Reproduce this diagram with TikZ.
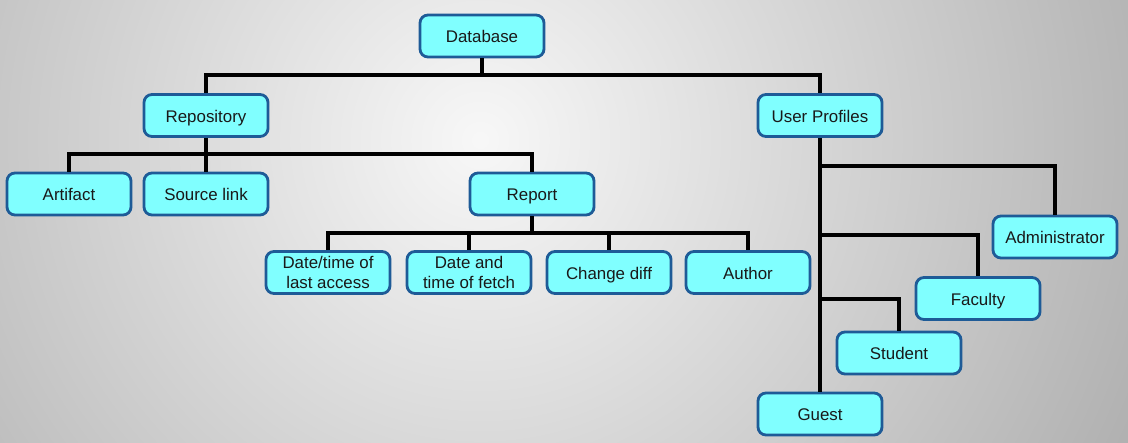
\documentclass[tikz,border=0pt]{standalone}
\usepackage{fontspec}
\setmainfont{Liberation Sans}
\definecolor{boxfill}{HTML}{80FFFF}
\definecolor{boxline}{HTML}{1E5B97}
\definecolor{bgouter}{HTML}{ACACAC}
\tikzset{
	boxbase/.style={draw=boxline,fill=boxfill,line width=2pt,rounded corners=0.2cm,
		minimum width=3.1cm,minimum height=1.05cm,align=center,text=black!90,
		font=\fontsize{12}{14}\selectfont},
	box/.style={boxbase,text height=9.6pt,text depth=0pt},
	link/.style={draw=black,line width=2.2pt},
}
\begin{document}
\begin{tikzpicture}[x=0.025cm,y=-0.025cm]
		\useasboundingbox (0,0) rectangle (1128,442);
		% background
		\begin{scope}
			\clip (0,0) rectangle (1128,442);
			\shade[inner color=white!97!black,outer color=bgouter] (480,140) circle (760);
		\end{scope}
		% top levels
		\node[box] (db) at (482,36) {Database};
		\node[box] (repo) at (206,115.5) {Repository};
		\node[box] (prof) at (820,115.5) {User Profiles};
		\node[box] (art) at (69,194) {Artifact};
		\node[box] (src) at (206,194) {Source link};
		\node[box] (rep) at (532,194) {Report};
		% report details
		\node[boxbase] (dtA) at (328,272.5) {Date/time of\\last access};
		\node[boxbase] (dtF) at (469,272.5) {Date and\\time of fetch};
		\node[box] (chg) at (609,272.5) {Change diff};
		\node[box] (aut) at (748,272.5) {Author};
		% user kinds
		\node[box] (adm) at (1055,237) {Administrator};
		\node[box] (fac) at (978,298.5) {Faculty};
		\node[box] (stu) at (899,353) {Student};
		\node[box] (gst) at (820,414) {Guest};
		% junctions
		\coordinate (busA) at (482,75);
		\coordinate (busB) at (206,154);
		\coordinate (busC) at (532,233);
		\coordinate (jAdm) at (820,166);
		\coordinate (jFac) at (820,235);
		\coordinate (jStu) at (820,299);
		% connectors
		\draw[link] (db.south) -- (busA);
		\draw[link] (repo.north) |- (busA) -| (prof.north);
		\draw[link] (repo.south) -- (src.north);
		\draw[link] (art.north) |- (busB) -| (rep.north);
		\draw[link] (rep.south) -- (busC);
		\draw[link] (dtA.north) |- (busC) -| (aut.north);
		\foreach \n in {dtF,chg}
			\draw[link] (\n.north) -- (\n.north |- busC);
		\draw[link] (prof.south) -- (gst.north);
		\draw[link] (jAdm) -| (adm.north);
		\draw[link] (jFac) -| (fac.north);
		\draw[link] (jStu) -| (stu.north);
	\end{tikzpicture}
\end{document}
